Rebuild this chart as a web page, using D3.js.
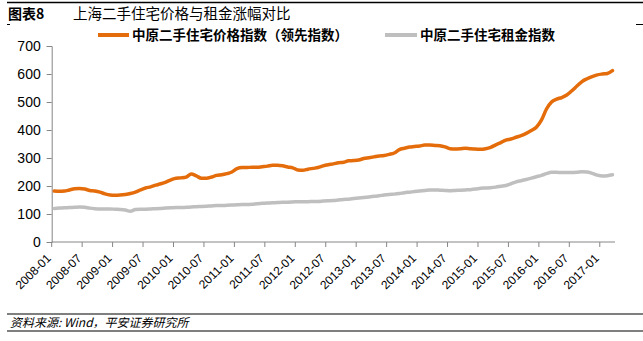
<!DOCTYPE html>
<html><head><meta charset="utf-8">
<script src="https://cdn.jsdelivr.net/npm/d3@7"></script>
<style>
html,body{margin:0;padding:0;background:#fff;}
svg{display:block;}
</style></head>
<body>
<svg id="chart" width="643" height="341"></svg>
<script>
// ---- data ----
const startYear = 2008, startMonth = 1, nMonths = 111; // 2008-01 .. 2017-03
const tickLabels = ["2008-01","2008-07","2009-01","2009-07","2010-01","2010-07","2011-01","2011-07","2012-01","2012-07","2013-01","2013-07","2014-01","2014-07","2015-01","2015-07","2016-01","2016-07","2017-01"];
const yTicks = [0,100,200,300,400,500,600,700];
const seriesNames = ["中原二手住宅价格指数（领先指数）","中原二手住宅租金指数"];
const priceIndex = [
182,181,182,186,190,191,189,184,182,178,172,168,
167,168,170,173,178,186,193,197,203,208,214,222,
228,229,232,243,236,228,228,232,238,240,244,250,
262,266,266,267,267,269,271,274,274,272,268,265,
257,256,260,263,266,272,276,279,283,285,290,291,
293,298,301,304,307,309,313,318,330,335,339,341,
343,346,346,345,344,340,333,332,333,335,333,332,
331,333,338,347,355,364,368,374,380,388,398,410,
435,475,500,510,516,525,540,557,573,583,591,597,
600,602,612];
const rentIndex = [
120,121,122,123,124,125,124,121,119,118,118,118,
117,116,114,110,116,117,117,118,119,120,121,122,
123,123,124,125,126,127,128,129,130,130,131,132,
133,134,134,135,137,138,139,140,141,142,142,143,
144,144,144,145,145,146,147,148,150,152,153,155,
157,159,161,163,165,168,170,171,173,176,178,180,
182,184,186,186,185,184,183,184,185,186,187,189,
192,193,194,196,199,202,208,215,219,223,228,233,
238,244,249,249,248,248,248,249,251,250,245,239,
236,237,240];
const categories = d3.range(nMonths).map(i => {
  const m = startMonth - 1 + i;
  const yr = startYear + Math.floor(m / 12);
  return yr + "-" + String(m % 12 + 1).padStart(2, "0");
});

// ---- layout ----
const svg = d3.select("#chart");
const pL = 51.7, pR = 615, pT = 46, pB = 242;
const orange = "#E46C0A", gray = "#BFBFBF", axisCol = "#868686";

const xBand = d3.scaleBand().domain(categories).range([pL, pR]).paddingInner(0).paddingOuter(0);
const xC = c => xBand(c) + xBand.bandwidth() / 2;
const yS = d3.scaleLinear().domain([0, 700]).range([pB, pT]);

// header
svg.append("line").attr("x1", 7).attr("x2", 643).attr("y1", 2.5).attr("y2", 2.5).attr("stroke", "#000").attr("stroke-width", 1.5);
svg.append("line").attr("x1", 7).attr("x2", 10).attr("y1", 24.5).attr("y2", 24.5).attr("stroke", "#000").attr("stroke-width", 1);
svg.append("line").attr("x1", 636).attr("x2", 643).attr("y1", 24.5).attr("y2", 24.5).attr("stroke", "#000").attr("stroke-width", 1);
svg.append("text").attr("x", 8).attr("y", 19).attr("font-family", "Noto Sans CJK SC, sans-serif")
  .attr("font-size", 14).attr("font-weight", "bold").attr("fill", "#000").text("图表8");
svg.append("text").attr("x", 73).attr("y", 19).attr("font-family", "Noto Sans CJK SC, sans-serif")
  .attr("font-size", 14.5).attr("fill", "#000").text("上海二手住宅价格与租金涨幅对比");

// legend
const legend = [{name: seriesNames[0], color: orange, x1: 98, x2: 129, tx: 132},
                {name: seriesNames[1], color: gray, x1: 385, x2: 417, tx: 420}];
legend.forEach(l => {
  svg.append("line").attr("x1", l.x1).attr("x2", l.x2).attr("y1", 35).attr("y2", 35)
    .attr("stroke", l.color).attr("stroke-width", 4);
  svg.append("text").attr("x", l.tx).attr("y", 40).attr("font-family", "Noto Sans CJK SC, sans-serif")
    .attr("font-size", 13.5).attr("font-weight", "bold").attr("fill", "#000").text(l.name);
});

// y axis
const yAxis = d3.axisLeft(yS).tickValues(yTicks).tickSize(5).tickPadding(6);
const gy = svg.append("g").attr("transform", `translate(${pL},0)`).call(yAxis);
gy.select(".domain").attr("stroke", axisCol);
gy.selectAll(".tick line").attr("stroke", axisCol);
gy.selectAll(".tick text").attr("font-family", "Liberation Sans, Arial, sans-serif").attr("font-size", 14).attr("fill", "#000");

// x axis
const tickCats = categories.filter((c, i) => i % 6 === 0);
const xAxis = d3.axisBottom(xBand).tickValues(tickCats).tickSize(5).tickFormat(() => "");
const gx = svg.append("g").attr("transform", `translate(0,${pB})`).call(xAxis);
gx.select(".domain").attr("stroke", axisCol).attr("d", `M${pL},0H${pR}`);
gx.selectAll(".tick").attr("transform", d => `translate(${xBand(d)},0)`);
gx.selectAll(".tick line").attr("stroke", axisCol);
gx.selectAll(".tick").append("text")
  .attr("transform", "translate(-3,14) rotate(-45)")
  .attr("text-anchor", "end").attr("dy", "0.35em")
  .attr("font-family", "Liberation Sans, Arial, sans-serif").attr("font-size", 12).attr("fill", "#000")
  .text((d, i) => tickLabels[i]);

// lines
const line = d3.line().x((d, i) => xC(categories[i])).y(d => yS(d)).curve(d3.curveMonotoneX);
svg.append("path").datum(rentIndex).attr("d", line).attr("fill", "none").attr("stroke", gray)
  .attr("stroke-width", 3.5).attr("stroke-linejoin", "round").attr("stroke-linecap", "round");
svg.append("path").datum(priceIndex).attr("d", line).attr("fill", "none").attr("stroke", orange)
  .attr("stroke-width", 3.5).attr("stroke-linejoin", "round").attr("stroke-linecap", "round");

// footer
svg.append("line").attr("x1", 7).attr("x2", 643).attr("y1", 314).attr("y2", 314).attr("stroke", "#000").attr("stroke-width", 1.2);
svg.append("line").attr("x1", 7).attr("x2", 643).attr("y1", 331).attr("y2", 331).attr("stroke", "#000").attr("stroke-width", 1.2);
svg.append("text").attr("x", 10).attr("y", 326.5).attr("font-family", "Noto Sans CJK SC, sans-serif")
  .attr("font-size", 12).attr("font-style", "italic").attr("fill", "#000").text("资料来源: Wind，平安证券研究所");
</script>
</body></html>
